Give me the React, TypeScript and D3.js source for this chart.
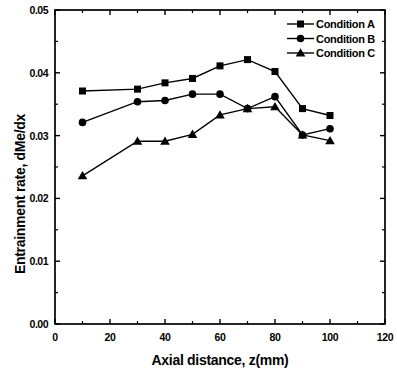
import React from 'react';
import * as d3 from 'd3';

const distances = [10, 30, 40, 50, 60, 70, 80, 90, 100];
const conditionA = [0.0371, 0.0374, 0.0384, 0.0391, 0.0411, 0.0421, 0.0402, 0.0343, 0.0332];
const conditionB = [0.0321, 0.0354, 0.0356, 0.0366, 0.0366, 0.0343, 0.0362, 0.0301, 0.0311];
const conditionC = [0.0236, 0.0291, 0.0291, 0.0302, 0.0333, 0.0343, 0.0346, 0.0301, 0.0292];
const seriesNames = ['Condition A', 'Condition B', 'Condition C'];
const seriesShapes = ['square', 'circle', 'triangle'];
const xTicks = [0, 20, 40, 60, 80, 100, 120];
const yTicks = [0, 0.01, 0.02, 0.03, 0.04, 0.05];

const W = 397;
const H = 370;
const margin = { left: 55, top: 10, right: 12, bottom: 46 };

function marker(shape: string, x: number, y: number, key: string) {
  if (shape === 'square') return <rect key={key} x={x - 3.5} y={y - 3.5} width={7} height={7} fill="#000" />;
  if (shape === 'circle') return <circle key={key} cx={x} cy={y} r={3.8} fill="#000" />;
  const p = d3.symbol().type(d3.symbolTriangle).size(40)();
  return <path key={key} d={p || ''} transform={`translate(${x},${y + 0.8})`} fill="#000" />;
}

export default function App() {
  const x = d3.scaleLinear().domain([0, 120]).range([margin.left, W - margin.right]);
  const y = d3.scaleLinear().domain([0, 0.05]).range([H - margin.bottom, margin.top]);
  const line = d3.line<[number, number]>().x(d => x(d[0])).y(d => y(d[1]));
  const all = [conditionA, conditionB, conditionC];
  const font = "'Liberation Sans', Arial, sans-serif";
  const x0 = x(0), x1 = x(120), y0 = y(0), y1 = y(0.05);
  const xMinor = d3.range(10, 120, 20);
  const yMinor = d3.range(0.005, 0.05, 0.01);

  return (
    <svg width={W} height={H} style={{ position: 'absolute', left: 0, top: 0 }} fontFamily={font} fontWeight="bold">
      <rect width={W} height={H} fill="#fff" />
      <rect x={x0} y={y1} width={x1 - x0} height={y0 - y1} fill="none" stroke="#000" strokeWidth={1.7} />
      {xTicks.map(t => (
        <g key={'xt' + t}>
          <line x1={x(t)} x2={x(t)} y1={y0} y2={y0 - 5} stroke="#000" strokeWidth={1.4} />
          <line x1={x(t)} x2={x(t)} y1={y1} y2={y1 + 5} stroke="#000" strokeWidth={1.4} />
          <text x={x(t)} y={y0 + 17} textAnchor="middle" fontSize={10.5} letterSpacing={-0.3}>{t}</text>
        </g>
      ))}
      {xMinor.map(t => (
        <g key={'xm' + t}>
          <line x1={x(t)} x2={x(t)} y1={y0} y2={y0 - 3} stroke="#000" strokeWidth={1.2} />
          <line x1={x(t)} x2={x(t)} y1={y1} y2={y1 + 3} stroke="#000" strokeWidth={1.2} />
        </g>
      ))}
      {yTicks.map(t => (
        <g key={'yt' + t}>
          <line x1={x0} x2={x0 + 5} y1={y(t)} y2={y(t)} stroke="#000" strokeWidth={1.4} />
          <line x1={x1} x2={x1 - 5} y1={y(t)} y2={y(t)} stroke="#000" strokeWidth={1.4} />
          <text x={x0 - 7} y={y(t) + 4} textAnchor="end" fontSize={10.5} letterSpacing={-0.5}>{t.toFixed(2)}</text>
        </g>
      ))}
      {yMinor.map(t => (
        <g key={'ym' + t}>
          <line x1={x0} x2={x0 + 3} y1={y(t)} y2={y(t)} stroke="#000" strokeWidth={1.2} />
          <line x1={x1} x2={x1 - 3} y1={y(t)} y2={y(t)} stroke="#000" strokeWidth={1.2} />
        </g>
      ))}
      {all.map((vals, si) => (
        <g key={'s' + si}>
          <path d={line(distances.map((d, i) => [d, vals[i]] as [number, number])) || ''} fill="none" stroke="#000" strokeWidth={1.4} />
          {distances.map((d, i) => marker(seriesShapes[si], x(d), y(vals[i]), `m${si}-${i}`))}
        </g>
      ))}
      {seriesNames.map((name, i) => {
        const ly = 24 + i * 14.5;
        return (
          <g key={'lg' + i}>
            <line x1={287} x2={314} y1={ly} y2={ly} stroke="#000" strokeWidth={1.4} />
            {marker(seriesShapes[i], 300.5, ly, 'lm' + i)}
            <text x={316} y={ly + 4} fontSize={11} letterSpacing={-0.3}>{name}</text>
          </g>
        );
      })}
      <text x={(x0 + x1) / 2} y={365} textAnchor="middle" fontSize={14} letterSpacing={-0.3}>Axial distance, z(mm)</text>
      <text transform={`translate(25,194) rotate(-90)`} textAnchor="middle" fontSize={14} letterSpacing={-0.3}>Entrainment rate, dMe/dx</text>
    </svg>
  );
}
